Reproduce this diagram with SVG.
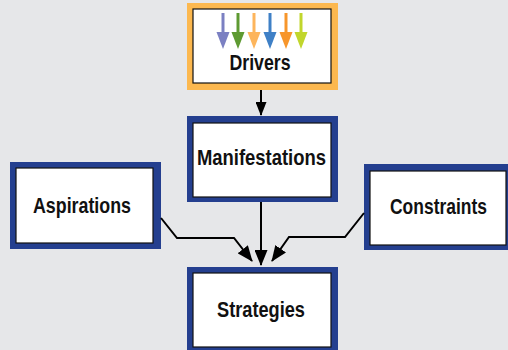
<svg xmlns="http://www.w3.org/2000/svg" width="508" height="350" viewBox="0 0 508 350">
<defs>
<style>
.outer-blue{fill:#243f8f}
.outer-orange{fill:#fcb84f}
.inner{fill:#ffffff;stroke:#111;stroke-width:1.2}
.lbl{font-family:"Liberation Sans Narrow","Liberation Sans",Arial,sans-serif;font-weight:bold;font-size:22px;fill:#111;text-anchor:middle}
.conn{fill:none;stroke:#000;stroke-width:2}
</style>
<marker id="ah" viewBox="0 0 16 13" refX="15" refY="6.5" markerWidth="16" markerHeight="13" markerUnits="userSpaceOnUse" orient="auto">
<path d="M0,0 L16,6.5 L0,13 z" fill="#000"/>
</marker>
<marker id="ahs" viewBox="0 0 14 11" refX="13" refY="5.5" markerWidth="14" markerHeight="11" markerUnits="userSpaceOnUse" orient="auto">
<path d="M0,0 L14,5.5 L0,11 z" fill="#000"/>
</marker>
</defs>
<rect x="0" y="0" width="508" height="350" fill="#e6e7e9"/>
<g id="drivers">
<rect class="outer-orange" x="187" y="3" width="151" height="87"/>
<rect class="inner" x="193" y="9" width="138" height="74"/>
<g stroke-width="3">
<line x1="223" y1="13" x2="223" y2="34" stroke="#7b80c2"/><polygon points="216.5,32 229.5,32 223,49" fill="#7b80c2"/>
<line x1="238" y1="13" x2="238" y2="34" stroke="#5e9a32"/><polygon points="231.5,32 244.5,32 238,49" fill="#5e9a32"/>
<line x1="254" y1="13" x2="254" y2="34" stroke="#fdb55c"/><polygon points="247.5,32 260.5,32 254,49" fill="#fdb55c"/>
<line x1="270" y1="13" x2="270" y2="34" stroke="#3f80c6"/><polygon points="263.5,32 276.5,32 270,49" fill="#3f80c6"/>
<line x1="286" y1="13" x2="286" y2="34" stroke="#f7962b"/><polygon points="279.5,32 292.5,32 286,49" fill="#f7962b"/>
<line x1="301" y1="13" x2="301" y2="34" stroke="#c1d62c"/><polygon points="294.5,32 307.5,32 301,49" fill="#c1d62c"/>
</g>
<text class="lbl" x="260" y="70" textLength="61" lengthAdjust="spacingAndGlyphs">Drivers</text>
</g>
<g id="manifestations">
<rect class="outer-blue" x="187" y="116" width="151" height="86"/>
<rect class="inner" x="193" y="123" width="138" height="74"/>
<text class="lbl" x="261.5" y="165" textLength="129" lengthAdjust="spacingAndGlyphs">Manifestations</text>
</g>
<g id="aspirations">
<rect class="outer-blue" x="10" y="162" width="151" height="87"/>
<rect class="inner" x="16" y="168" width="137" height="75"/>
<text class="lbl" x="82" y="213" textLength="98" lengthAdjust="spacingAndGlyphs">Aspirations</text>
</g>
<g id="constraints">
<rect class="outer-blue" x="364" y="164" width="144" height="86"/>
<rect class="inner" x="370" y="171" width="136" height="74"/>
<text class="lbl" x="438.5" y="214" textLength="97" lengthAdjust="spacingAndGlyphs">Constraints</text>
</g>
<g id="strategies">
<rect class="outer-blue" x="187" y="267" width="151" height="83"/>
<rect class="inner" x="193" y="273" width="138" height="74"/>
<text class="lbl" x="261" y="317" textLength="88" lengthAdjust="spacingAndGlyphs">Strategies</text>
</g>
<g id="connectors">
<path class="conn" d="M261,90 L261,115" marker-end="url(#ahs)"/>
<path class="conn" d="M261,202 L261,265" marker-end="url(#ah)"/>
<path class="conn" d="M161,218 L177,238 L234,238 L252,261" marker-end="url(#ah)"/>
<path class="conn" d="M364,213 L345,237 L289,237 L272,261" marker-end="url(#ah)"/>
</g>
</svg>
